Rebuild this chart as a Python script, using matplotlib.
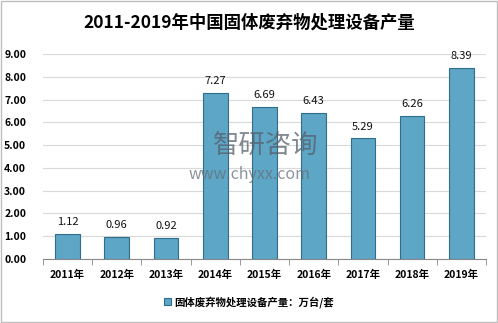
import matplotlib
matplotlib.use('Agg')
from matplotlib import pyplot as plt
from matplotlib.patches import Rectangle

plt.rcParams['font.family'] = ['Noto Sans CJK SC', 'DejaVu Sans']

years = ['2011年', '2012年', '2013年', '2014年', '2015年', '2016年', '2017年', '2018年', '2019年']
output = [1.12, 0.96, 0.92, 7.27, 6.69, 6.43, 5.29, 6.26, 8.39]
series_name = '固体废弃物处理设备产量：万台/套'
title = '2011-2019年中国固体废弃物处理设备产量'

fig = plt.figure(figsize=(4.98, 3.23), dpi=100)
ax = fig.add_axes([0.086, 0.198, 0.89, 0.635])

x = list(range(len(years)))
bars = ax.bar(x, output, width=0.5, color='#5ea6c6', edgecolor='#2f6e8a',
              linewidth=0.8, label=series_name, zorder=3)

for xi, v in zip(x, output):
    ax.annotate('{:.2f}'.format(v), (xi, v), textcoords='offset points',
                xytext=(0, 5), ha='center', va='bottom', fontsize=8, color='#111111')

ax.set_ylim(0, 9)
ax.set_xlim(-0.5, len(years) - 0.5)
ax.set_yticks(range(0, 10))
ax.set_yticklabels(['{:.2f}'.format(v) for v in range(0, 10)], fontsize=7.5, fontweight='bold')
ax.set_xticks(x)
ax.set_xticklabels(years, fontsize=7.5, fontweight='bold')
ax.tick_params(axis='y', length=0, pad=12)
ax.tick_params(axis='x', length=0, pad=8)
# small tick marks between categories
ax.set_xticks([i + 0.5 for i in range(-1, len(years))], minor=True)
ax.tick_params(axis='x', which='minor', length=4, color='#888888')

ax.grid(axis='y', color='#d9d9d9', linewidth=0.8, zorder=0)
for s in ['top', 'right', 'left']:
    ax.spines[s].set_visible(False)
ax.spines['bottom'].set_color('#888888')

fig.text(0.5, 0.93, title, ha='center', va='center', fontsize=12.5, fontweight='bold')

# legend
fig.legend(handles=[bars], labels=[series_name], loc='center', bbox_to_anchor=(0.5, 0.065),
           frameon=False, fontsize=7.5, handlelength=0.7, handleheight=0.7,
           handletextpad=0.3, prop={'weight': 'bold', 'size': 7.5})

# watermark
fig.text(0.533, 0.551, '智研咨询', ha='center', va='center', fontsize=19,
         color='#55606c', alpha=0.75, zorder=10)
fig.text(0.502, 0.461, 'www.chyxx.com', ha='center', va='center', fontsize=11.5,
         color='#66707a', alpha=0.75, zorder=10)

# figure border
fig.patches.append(Rectangle((0.002, 0.003), 0.995, 0.994, transform=fig.transFigure,
                             fill=False, edgecolor='#bfbfbf', linewidth=1))

fig.savefig('out.png', dpi=100)
